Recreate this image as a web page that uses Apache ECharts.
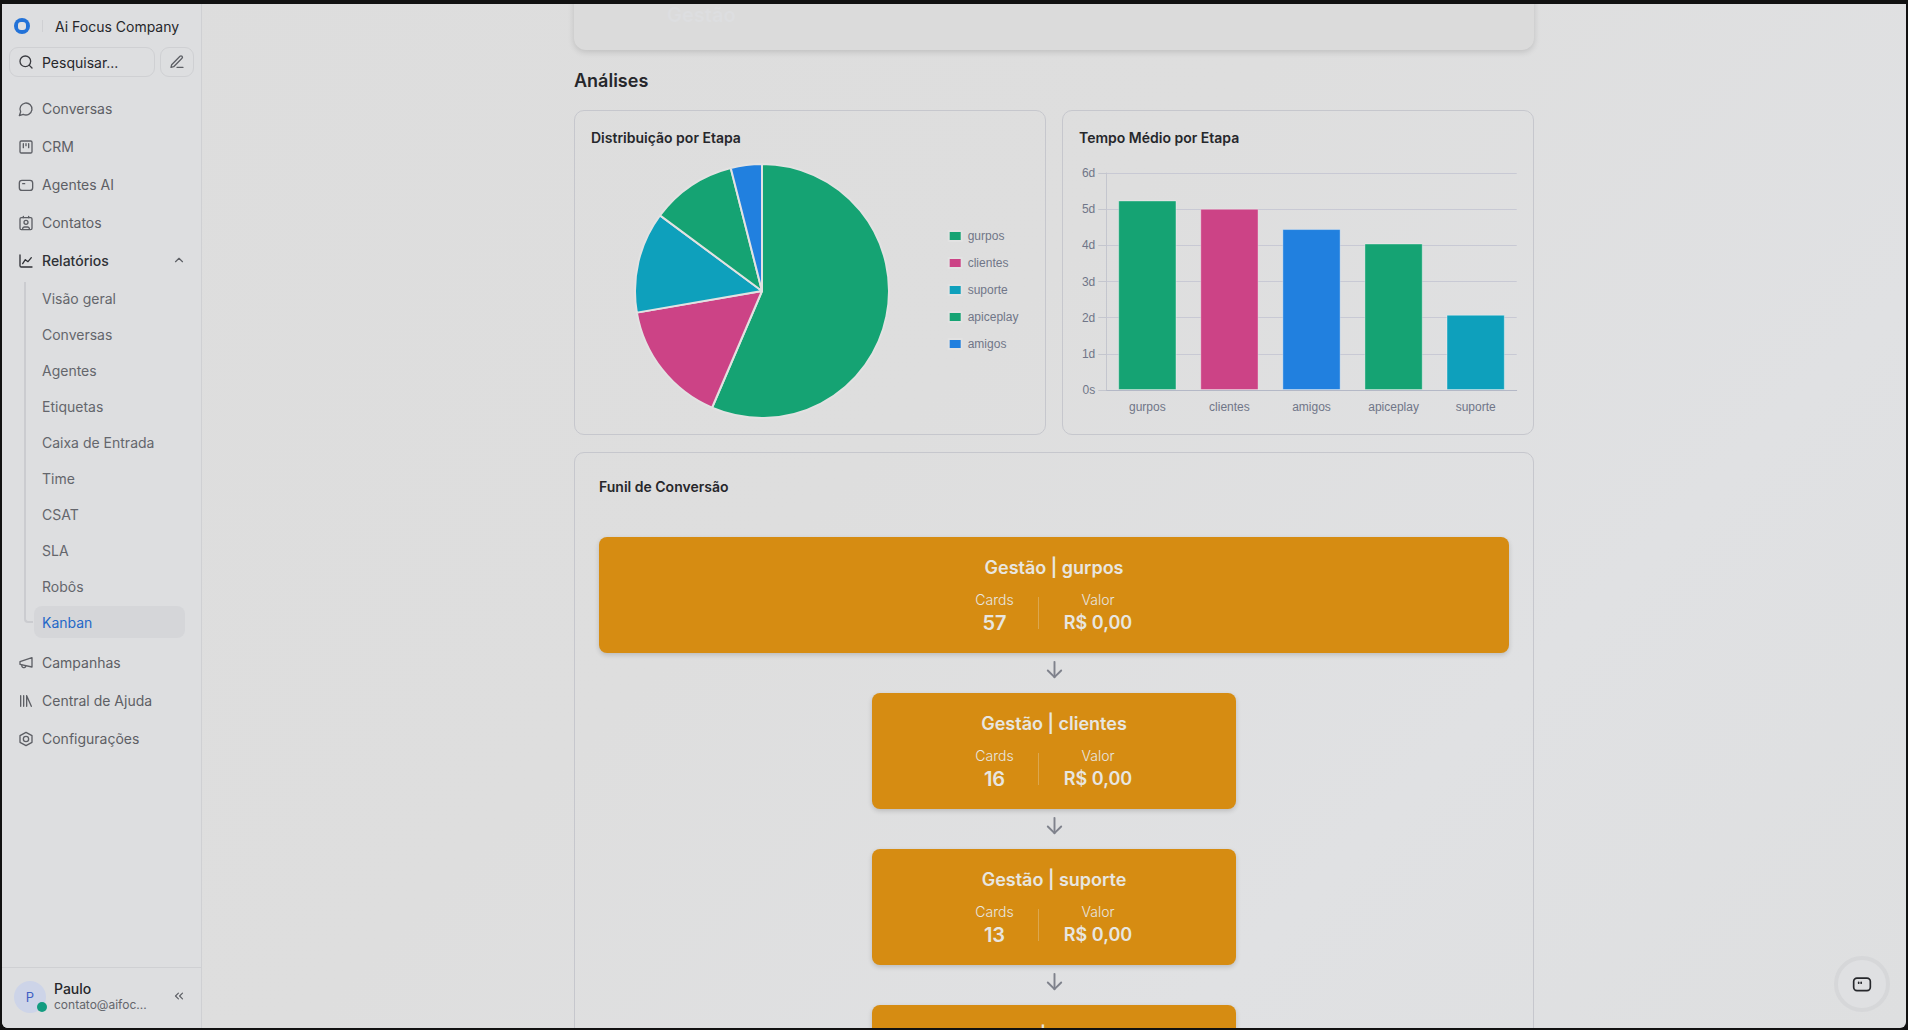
<!DOCTYPE html>
<html>
<head>
<meta charset="utf-8">
<title>Kanban</title>
<script src="https://cdn.jsdelivr.net/npm/echarts@6/dist/echarts.min.js"></script>
<style>
	html,body{margin:0;padding:0;width:1908px;height:1030px;overflow:hidden;background:#111;font-family:Inter,"Noto Sans",sans-serif;}
	div,svg{position:absolute;box-sizing:border-box;}
	#app{left:2px;top:4px;width:1904px;height:1024px;border-radius:0 0 6px 6px;overflow:hidden;background:linear-gradient(135deg,#dddddd 0%,#dedede 45%,#e0e1e3 75%,#dedfe0 100%);}
	#sidebar{left:0;top:0;width:200px;height:1024px;border-right:1px solid #cfd0d3;background:#dddee0;}
	.txt{white-space:nowrap;line-height:20px;font-size:14px;}
	.nav{color:#5d5f65;}
	.sub{color:#64666c;}
	.icon{fill:none;stroke:#5d5f65;stroke-width:2;stroke-linecap:round;stroke-linejoin:round;}
	.card{border:1px solid #c6c7cd;border-radius:10px;}
	.ctitle{font-weight:600;color:#26272b;}
	.stage{background:#d68c12;border-radius:8px;box-shadow:0 2px 5px rgba(0,0,0,.16);color:#e8e6e0;}
	.mid{transform:translateX(-50%);text-align:center;}
</style>
</head>
<body>
<div id="app">
	<div id="topcard" style="left:572px;top:-20px;width:960px;height:66px;border-radius:12px;background:#dbdbdb;box-shadow:0 2px 6px rgba(0,0,0,.14);">
		<div class="txt" style="left:93px;top:19px;font-size:20px;line-height:24px;font-weight:600;color:#dddee0;">Gestão</div>
	</div>
	<div class="txt" style="left:572px;top:65px;font-size:18px;line-height:24px;font-weight:600;color:#26272b;">Análises</div>

	<div class="card" style="left:572px;top:106px;width:472px;height:325px;">
		<div id="pie" style="left:0;top:0;width:470px;height:323px;"></div>
		<div class="txt ctitle" style="left:16px;top:17px;">Distribuição por Etapa</div>
	</div>
	<div class="card" style="left:1060px;top:106px;width:472px;height:325px;">
		<div id="bar" style="left:0;top:0;width:470px;height:323px;"></div>
		<div class="txt ctitle" style="left:16px;top:17px;">Tempo Médio por Etapa</div>
	</div>

	<div id="funnel" class="card" style="left:572px;top:448px;width:960px;height:640px;">
		<div class="txt ctitle" style="left:24px;top:24px;">Funil de Conversão</div>
	</div>

	<div id="sidebar"></div>

	<div style="left:1832px;top:952px;width:56px;height:56px;border-radius:50%;border:4px solid #d6d7d9;background:#dfe0e2;">
		<svg width="20" height="20" viewBox="0 0 24 24" style="left:14px;top:14px;" fill="none" stroke="#26272b" stroke-width="2" stroke-linecap="round" stroke-linejoin="round"><rect x="2" y="5" width="20" height="15" rx="4"/><path d="M8 10v1M11 10v1"/></svg>
	</div>
</div>
<script>
var stageNames = ['gurpos', 'clientes', 'suporte', 'apiceplay', 'amigos'];
var stageCards = [57, 16, 13, 11, 4];
var stageValues = ['R$ 0,00', 'R$ 0,00', 'R$ 0,00', 'R$ 0,00', 'R$ 0,00'];
var pieColors = ['#15a373', '#cc4386', '#0ea0bc', '#15a373', '#2180df'];

var barNames = ['gurpos', 'clientes', 'amigos', 'apiceplay', 'suporte'];
var barDays = [5.24, 5.01, 4.45, 4.05, 2.08];
var barColors = ['#15a373', '#cc4386', '#2180df', '#15a373', '#0ea0bc'];
var dayTicks = ['0s', '1d', '2d', '3d', '4d', '5d', '6d'];

var navTop = ['Conversas', 'CRM', 'Agentes AI', 'Contatos', 'Relatórios'];
var navSub = ['Visão geral', 'Conversas', 'Agentes', 'Etiquetas', 'Caixa de Entrada', 'Time', 'CSAT', 'SLA', 'Robôs', 'Kanban'];
var navBottom = ['Campanhas', 'Central de Ajuda', 'Configurações'];

var iconPaths = {
	'Conversas': '<path d="M7.9 20A9 9 0 1 0 4 16.1L2 22Z"/>',
	'CRM': '<rect x="3" y="3" width="18" height="18" rx="2"/><path d="M8 7v6M12 7v3M16 7v6"/>',
	'Agentes AI': '<rect x="2" y="5" width="20" height="15" rx="4"/><path d="M7 10h3"/>',
	'Contatos': '<rect x="3" y="4" width="18" height="18" rx="2"/><path d="M16 2v2M8 2v2"/><circle cx="12" cy="11" r="3"/><path d="M7 21v-1a3 3 0 0 1 3-2h4a3 3 0 0 1 3 2v1"/>',
	'Relatórios': '<path d="M3 3v16a2 2 0 0 0 2 2h16"/><path d="M7 16l4-6 4 3 5-6"/>',
	'Campanhas': '<path d="M3 10l18-6v14L3 14z"/><path d="M11.6 16.8a3 3 0 1 1-5.8-1.6"/>',
	'Central de Ajuda': '<path d="M4 4v16M8.5 4v16M13 4v16M13 4l7 16"/>',
	'Configurações': '<path d="M12 2l9 5v10l-9 5-9-5V7z"/><circle cx="12" cy="12" r="4"/>'
};

function el(parent, cls, css, html){
	var d = document.createElement('div');
	d.className = cls;
	d.style.cssText = css;
	if(html !== undefined){
		d.innerHTML = html;
	}
	parent.appendChild(d);
	return d;
}

function icon(parent, inner, x, y, size, extra){
	var box = document.createElement('div');
	box.style.cssText = 'left:'+x+'px;top:'+y+'px;width:'+size+'px;height:'+size+'px;';
	box.innerHTML = '<svg class="icon" width="'+size+'" height="'+size+'" viewBox="0 0 24 24" style="left:0;top:0;'+(extra||'')+'">'+inner+'</svg>';
	parent.appendChild(box);
}

// sidebar
var side = document.getElementById('sidebar');
el(side, '', 'left:12px;top:14px;width:16px;height:16px;border-radius:50%;background:#2272d8;');
el(side, '', 'left:16px;top:18px;width:8px;height:8px;border-radius:3px;background:#dfe0e2;');
el(side, '', 'left:40px;top:16px;width:1px;height:12px;background:#cfd0d3;');
el(side, 'txt', 'left:53px;top:12.5px;color:#26272b;', 'Ai Focus Company');
el(side, '', 'left:7px;top:43px;width:146px;height:30px;border:1px solid #cfd0d3;border-radius:9px;');
icon(side, '<circle cx="11" cy="11" r="8"/><path d="M21 21l-4.3-4.3"/>', 16, 50, 16, 'stroke:#3a3b40;');
el(side, 'txt', 'left:40px;top:48.5px;color:#26272b;', 'Pesquisar...');
el(side, '', 'left:158px;top:43px;width:34px;height:30px;border:1px solid #cfd0d3;border-radius:9px;');
icon(side, '<path d="M12 20h9"/><path d="M16.5 3.5a2.1 2.1 0 0 1 3 3L7 19l-4 1 1-4z"/>', 167, 50, 16);

var i, y;
for(i=0; i<navTop.length; i++){
	y = 94.5 + i*38;
	icon(side, iconPaths[navTop[i]], 16, y+2, 16, navTop[i]=='Relatórios' ? 'stroke:#2f3136;' : '');
	el(side, 'txt nav', 'left:40px;top:'+y+'px;'+(navTop[i]=='Relatórios' ? 'color:#2f3136;font-weight:500;' : ''), navTop[i]);
}
icon(side, '<path d="M18 15l-6-6-6 6"/>', 170, 249, 14);

el(side, '', 'left:21.5px;top:278px;width:9px;height:341px;border-left:2px solid #cbccd0;border-bottom:2px solid #cbccd0;border-bottom-left-radius:4px;');
el(side, '', 'left:32px;top:602px;width:151px;height:32px;border-radius:8px;background:#d5d6d9;');
for(i=0; i<navSub.length; i++){
	y = 284.5 + i*36.05;
	el(side, 'txt sub', 'left:40px;top:'+y+'px;'+(navSub[i]=='Kanban' ? 'color:#2468c8;' : ''), navSub[i]);
}
for(i=0; i<navBottom.length; i++){
	y = 648.7 + i*38;
	icon(side, iconPaths[navBottom[i]], 16, y+2, 16);
	el(side, 'txt nav', 'left:40px;top:'+y+'px;', navBottom[i]);
}

el(side, '', 'left:0;top:963px;width:199px;height:1px;background:#cfd0d3;');
el(side, '', 'left:12px;top:977px;width:32px;height:32px;border-radius:50%;background:#cdd4e8;color:#3f5fc4;font-size:13px;line-height:32px;text-align:center;', 'P');
el(side, '', 'left:35px;top:998px;width:10px;height:10px;border-radius:50%;background:#139c80;');
el(side, 'txt', 'left:52px;top:975px;color:#26272b;font-weight:500;', 'Paulo');
el(side, 'txt', 'left:52px;top:991px;color:#64666c;font-size:12px;', 'contato@aifoc...');
icon(side, '<path d="M11 17l-5-5 5-5"/><path d="M18 17l-5-5 5-5"/>', 170, 985, 14);

// funnel steps, only the title of the last one reaches into the page
var funnel = document.getElementById('funnel');
var stageTops = [84, 240, 396, 552];
var stageWidths = [910, 364, 364, 364];
for(i=0; i<stageTops.length; i++){
	var w = stageWidths[i];
	var s = el(funnel, 'stage', 'left:'+(479-w/2)+'px;top:'+stageTops[i]+'px;width:'+w+'px;height:116px;');
	var c = w/2;
	el(s, 'txt mid', 'left:'+c+'px;top:19px;font-size:18px;line-height:24px;font-weight:600;', 'Gestão | '+stageNames[i]);
	if(i < stageTops.length-1){
		el(s, 'txt mid', 'left:'+(c-59.5)+'px;top:53px;font-weight:300;', 'Cards');
		el(s, 'txt mid', 'left:'+(c-59.5)+'px;top:74px;font-size:20px;line-height:24px;font-weight:600;', stageCards[i]);
		el(s, '', 'left:'+(c-16.5)+'px;top:60px;width:1px;height:32px;background:#dca74f;');
		el(s, 'txt mid', 'left:'+(c+44)+'px;top:53px;font-weight:300;', 'Valor');
		el(s, 'txt mid', 'left:'+(c+44)+'px;top:74px;font-size:18px;line-height:24px;font-weight:600;', stageValues[i]);
		icon(funnel, '<path d="M12 4v16"/><path d="M19 13l-7 7-7-7"/>', 467.5, stageTops[i]+120.5, 23, 'stroke:#7f828c;');
	}
}

// pie
var pieData = [];
for(i=0; i<stageNames.length; i++){
	pieData.push({name:stageNames[i], value:stageCards[i], itemStyle:{color:pieColors[i]}});
}
var pieChart = echarts.init(document.getElementById('pie'), null, {renderer:'svg'});
pieChart.setOption({
	animation:false,
	legend:{
		orient:'vertical',
		left:367.7,
		top:114,
		icon:'rect',
		itemWidth:13,
		itemHeight:10,
		itemGap:15,
		textStyle:{color:'#707688', fontSize:12, fontFamily:'Liberation Sans', padding:[0,0,0,1]},
		data:stageNames
	},
	series:[{
		type:'pie',
		center:[187, 180],
		radius:[0, 127],
		startAngle:90,
		label:{show:false},
		labelLine:{show:false},
		itemStyle:{borderColor:'#e2e2e2', borderWidth:2},
		data:pieData
	}]
});

// bars
var barData = [];
for(i=0; i<barNames.length; i++){
	barData.push({value:barDays[i], itemStyle:{color:barColors[i]}});
}
var barChart = echarts.init(document.getElementById('bar'), null, {renderer:'svg'});
barChart.setOption({
	animation:false,
	grid:{left:43.3, right:16.3, top:62, bottom:44},
	xAxis:{
		type:'category',
		data:barNames,
		axisLine:{lineStyle:{color:'#b4b8c6'}},
		axisTick:{show:false},
		axisLabel:{color:'#707688', fontSize:12, margin:11, fontFamily:'Liberation Sans'}
	},
	yAxis:{
		type:'value',
		min:0,
		max:6,
		interval:1,
		axisLine:{show:true, lineStyle:{color:'#c4c6ce'}},
		axisTick:{show:true, length:8, lineStyle:{color:'#c4c6ce'}},
		splitLine:{lineStyle:{color:'#c8c9d4'}},
		axisLabel:{
			color:'#707688',
			fontSize:12,
			margin:11,
			fontFamily:'Liberation Sans',
			formatter:function(v){
				return dayTicks[v];
			}
		}
	},
	series:[{
		type:'bar',
		barWidth:'71%',
		itemStyle:{borderColor:'rgba(255,255,255,.35)', borderWidth:1},
		data:barData
	}]
});
</script>
</body>
</html>
